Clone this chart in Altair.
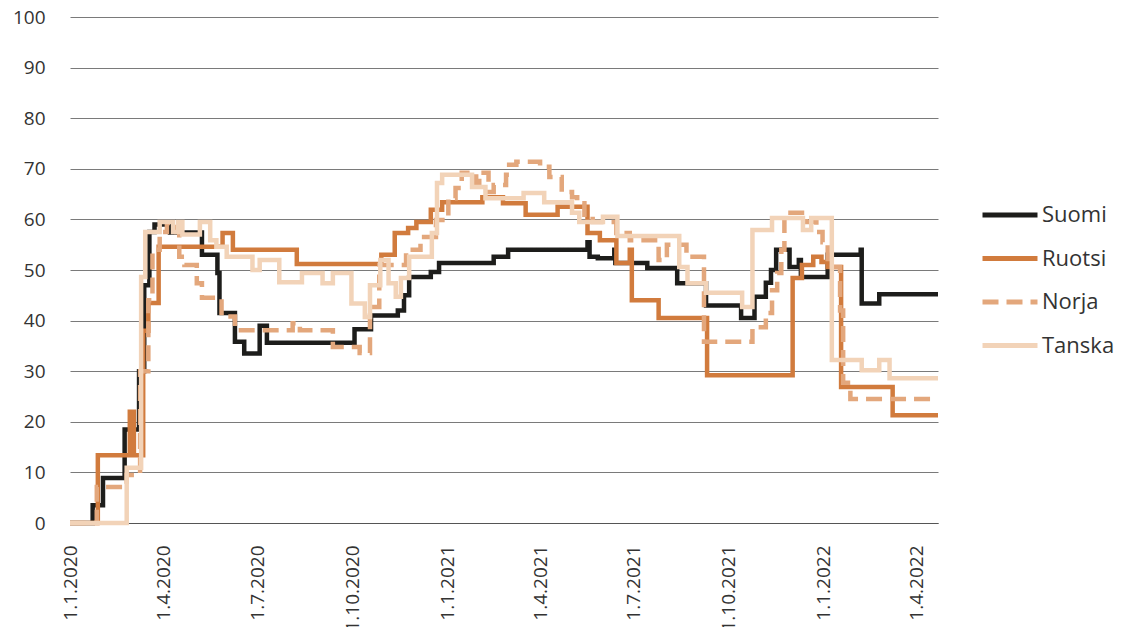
import altair as alt
import pandas as pd

countries = ["Suomi", "Ruotsi", "Norja", "Tanska"]
colors = ["#1d1d1b", "#d17b3d", "#e3a77c", "#f2d3b8"]
end_date = "2022-04-22"

suomi_dates = ["2020-01-01", "2020-01-23", "2020-02-02", "2020-02-23", "2020-03-08", "2020-03-13",
               "2020-03-18", "2020-03-23", "2020-04-07", "2020-05-08", "2020-05-23", "2020-05-25",
               "2020-06-09", "2020-06-18", "2020-07-03", "2020-07-10", "2020-10-03", "2020-10-19",
               "2020-11-14", "2020-11-20", "2020-11-25", "2020-12-16", "2020-12-24", "2021-02-15",
               "2021-03-01", "2021-05-17", "2021-05-19", "2021-05-27", "2021-06-12", "2021-06-13",
               "2021-07-14", "2021-08-12", "2021-09-09", "2021-10-13", "2021-10-26", "2021-11-06",
               "2021-11-11", "2021-11-16", "2021-11-29", "2021-12-08", "2021-12-10", "2022-01-05",
               "2022-02-06", "2022-02-07", "2022-02-24"]
suomi_values = [0, 3.5, 8.9, 18.5, 30, 47, 57.5, 59, 57.4, 53, 49.4, 41.5, 35.8, 33.5, 39, 35.6,
                38.3, 41, 42, 45, 48.6, 49.6, 51.4, 52.6, 54, 55.5, 52.6, 52.3, 54, 51.4, 50.4,
                47.4, 43, 40.5, 44.7, 47.5, 50, 54, 50.6, 52, 48.6, 53, 54, 43.4, 45.2]

ruotsi_dates = ["2020-01-01", "2020-01-28", "2020-02-28", "2020-03-03", "2020-03-12", "2020-03-17",
                "2020-03-27", "2020-05-28", "2020-06-07", "2020-08-08", "2020-10-29", "2020-11-11",
                "2020-11-24", "2020-12-02", "2020-12-16", "2020-12-27", "2021-02-04", "2021-02-24",
                "2021-03-18", "2021-04-18", "2021-05-17", "2021-05-29", "2021-06-14", "2021-06-27",
                "2021-06-29", "2021-07-25", "2021-09-10", "2021-12-02", "2021-12-11", "2021-12-22",
                "2021-12-30", "2022-01-05", "2022-01-18", "2022-03-09"]
ruotsi_values = [0, 13.4, 22, 13.4, 38, 43.5, 54.6, 57.3, 54, 51.2, 53, 57.3, 58.3, 59.5, 61.9,
                 63.4, 64.4, 63.2, 60.9, 62.5, 57.3, 55.9, 51.4, 54, 44, 40.5, 29.2, 48.4, 51,
                 52.6, 51.6, 50.6, 26.9, 21.3]

norja_dates = ["2020-01-01", "2020-01-27", "2020-02-25", "2020-03-09", "2020-03-17", "2020-03-21",
               "2020-03-28", "2020-04-04", "2020-04-13", "2020-04-16", "2020-04-21", "2020-05-03",
               "2020-05-08", "2020-05-27", "2020-06-09", "2020-08-04", "2020-08-11", "2020-09-12",
               "2020-10-08", "2020-10-18", "2020-10-27", "2020-11-22", "2020-12-06", "2020-12-21",
               "2021-01-02", "2021-01-09", "2021-01-15", "2021-01-29", "2021-02-01", "2021-02-10",
               "2021-02-15", "2021-02-27", "2021-03-02", "2021-03-09", "2021-04-01", "2021-04-10",
               "2021-04-22", "2021-05-02", "2021-05-07", "2021-05-14", "2021-05-22", "2021-06-14",
               "2021-06-27", "2021-07-25", "2021-08-02", "2021-08-21", "2021-09-07", "2021-10-24",
               "2021-11-06", "2021-11-12", "2021-11-17", "2021-11-21", "2021-11-24", "2021-12-15",
               "2021-12-25", "2021-12-31", "2022-01-05", "2022-01-17", "2022-01-20", "2022-01-27"]
norja_values = [0, 7.1, 9.5, 30, 44, 54, 57.5, 59.3, 57.5, 52.6, 51, 47.4, 44.5, 40.8, 38.1, 39.5,
                38.1, 34.8, 33.6, 42.7, 51, 54, 56.5, 59.9, 64.2, 66.2, 69.2, 67.2, 69.2, 65.4,
                66.8, 68.8, 70.8, 71.4, 70.4, 68.4, 65.4, 64.4, 63.2, 60.9, 59.5, 57.3, 55.9, 52,
                55, 52.6, 35.8, 38.7, 41.5, 46, 49.4, 54, 61.3, 59.5, 57.5, 55.5, 50.6, 42, 27.7,
                24.5]

tanska_dates = ["2020-01-01", "2020-02-25", "2020-03-10", "2020-03-14", "2020-03-28", "2020-04-10",
                "2020-04-15", "2020-04-19", "2020-05-06", "2020-05-16", "2020-05-22", "2020-06-01",
                "2020-06-26", "2020-07-03", "2020-07-22", "2020-08-13", "2020-09-02", "2020-09-12",
                "2020-09-30", "2020-10-13", "2020-10-18", "2020-10-28", "2020-11-05", "2020-11-12",
                "2020-11-17", "2020-11-25", "2020-12-17", "2020-12-22", "2020-12-27", "2021-01-25",
                "2021-02-07", "2021-03-16", "2021-04-05", "2021-05-02", "2021-05-09", "2021-06-01",
                "2021-06-15", "2021-08-14", "2021-08-22", "2021-09-09", "2021-10-14", "2021-10-24",
                "2021-11-12", "2021-12-12", "2021-12-20", "2022-01-09", "2022-02-07", "2022-02-24",
                "2022-03-06"]
tanska_values = [0, 10.9, 48.6, 57.5, 59.5, 57.5, 59.5, 57, 59.5, 55.9, 54.6, 52.6, 50, 52, 47.6,
                 49.4, 47.4, 49.4, 43.4, 40.7, 47, 52, 47.4, 44.7, 48.4, 52.6, 57.3, 67.2, 68.8,
                 66.4, 64.2, 65.2, 63.4, 61.3, 59.5, 60.5, 56.7, 50.6, 47.4, 45.5, 42.7, 57.9,
                 60.3, 57.9, 60.3, 32.2, 30.2, 32.2, 28.6]

y_ticks = list(range(0, 101, 10))
x_ticks = ["2020-01-01", "2020-04-01", "2020-07-01", "2020-10-01", "2021-01-01", "2021-04-01",
           "2021-07-01", "2021-10-01", "2022-01-01", "2022-04-01"]

series = {
    "Suomi": (suomi_dates, suomi_values),
    "Ruotsi": (ruotsi_dates, ruotsi_values),
    "Norja": (norja_dates, norja_values),
    "Tanska": (tanska_dates, tanska_values),
}
rows = []
for order, name in enumerate(countries):
    ds, vs = series[name]
    for d, v in zip(ds, vs):
        rows.append({"maa": name, "pvm": d, "arvo": v, "o": order})
    rows.append({"maa": name, "pvm": end_date, "arvo": vs[-1], "o": order})
df = pd.DataFrame(rows)

font = "Open Sans"

legend_opts = dict(orient="none", legendX=910, legendY=168,
                   symbolType="M-1,0L1,0", symbolStrokeWidth=5,
                   symbolSize=3025, labelFontSize=22, labelFont=font,
                   labelColor="#333333", rowPadding=2.5, labelOffset=2,
                   padding=0)

chart = alt.Chart(df).mark_line(interpolate="step-after", strokeWidth=4.5, strokeJoin="miter").encode(
    x=alt.X("pvm:T", title=None,
            scale=alt.Scale(domain=["2020-01-01", end_date]),
            axis=alt.Axis(values=[pd.Timestamp(t).isoformat() for t in x_ticks],
                          format="%-d.%-m.%Y", labelAngle=270, labelAlign="right",
                          labelBaseline="middle", labelPadding=22, ticks=False,
                          domain=True, domainColor="#555555", domainWidth=1.2, grid=False,
                          labelFontSize=19, labelColor="#333333", labelFont=font)),
    y=alt.Y("arvo:Q", title=None,
            scale=alt.Scale(domain=[0, 100], nice=False),
            axis=alt.Axis(values=y_ticks, ticks=False, domain=False, grid=True,
                          gridColor="#7a7a7a", gridWidth=1, labelPadding=25,
                          labelFontSize=19, labelColor="#333333", labelFont=font)),
    color=alt.Color("maa:N", title=None,
                    scale=alt.Scale(domain=countries, range=colors),
                    legend=alt.Legend(**legend_opts)),
    strokeDash=alt.StrokeDash("maa:N", title=None,
                              scale=alt.Scale(domain=countries,
                                              range=[[1, 0], [1, 0], [16, 8], [1, 0]]),
                              legend=alt.Legend(**legend_opts)),
    order=alt.Order("o:Q"),
).properties(
    width=868, height=506,
    autosize=alt.AutoSizeParams(type="none"),
    padding={"left": 62, "top": 9, "right": 177, "bottom": 104},
).configure_view(stroke=None)

chart.save("out.html", embed_options={"renderer": "svg", "actions": False})
